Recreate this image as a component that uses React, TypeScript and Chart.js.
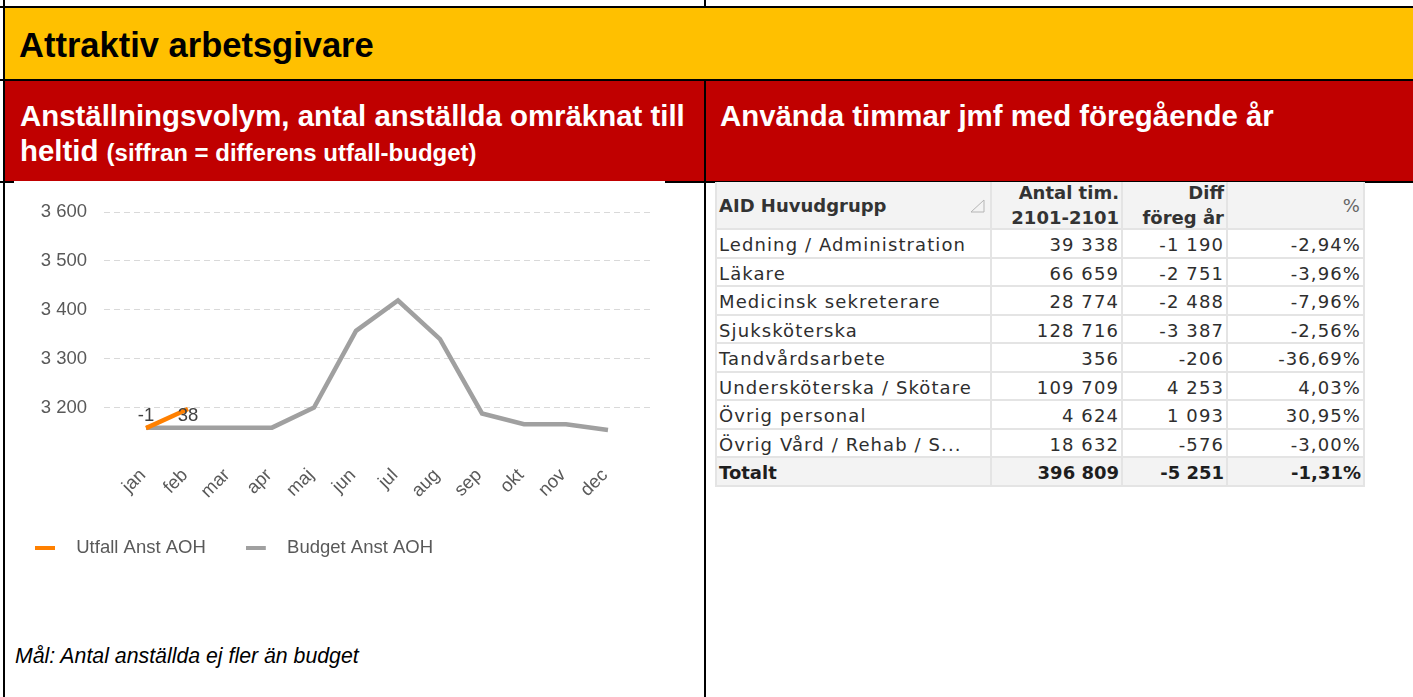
import React, { useEffect, useRef } from "react";
import { Chart, registerables } from "chart.js";

Chart.register(...registerables);

// ---------- chart data ----------
const months = ["jan", "feb", "mar", "apr", "maj", "jun", "jul", "aug", "sep", "okt", "nov", "dec"];
const budgetValues = [3159, 3159, 3159, 3159, 3200, 3357, 3419, 3340, 3188, 3166, 3166, 3154];
const utfallValues = [3158, 3197];
const yTickValues = [3200, 3300, 3400, 3500, 3600];
const seriesNames = ["Utfall Anst AOH", "Budget Anst AOH"];

// ---------- table data ----------
const tableGroups = [
  "Ledning / Administration",
  "Läkare",
  "Medicinsk sekreterare",
  "Sjuksköterska",
  "Tandvårdsarbete",
  "Undersköterska / Skötare",
  "Övrig personal",
  "Övrig Vård / Rehab / S...",
];
const tableHours = ["39 338", "66 659", "28 774", "128 716", "356", "109 709", "4 624", "18 632"];
const tableDiff = ["-1 190", "-2 751", "-2 488", "-3 387", "-206", "4 253", "1 093", "-576"];
const tablePct = ["-2,94%", "-3,96%", "-7,96%", "-2,56%", "-36,69%", "4,03%", "30,95%", "-3,00%"];
const totalRow = ["Totalt", "396 809", "-5 251", "-1,31%"];

const ORANGE = "#FF8000";
const GRAY = "#A0A0A0";
const CHART_FONT = "'Liberation Sans', Arial, sans-serif";
const TEXT_GRAY = "#595959";

function fmt(v: number) {
  return String(v).replace(/\B(?=(\d{3})+(?!\d))/g, " ");
}

function makeDash(color: string) {
  const c = document.createElement("canvas");
  c.width = 32;
  c.height = 4;
  const g = c.getContext("2d")!;
  g.fillStyle = color;
  g.fillRect(0, 0, 20, 4);
  return c;
}

const diffLabelPlugin = {
  id: "diffLabels",
  afterDatasetsDraw(chart: any) {
    const { ctx } = chart;
    const xs = chart.scales.x;
    const ys = chart.scales.y;
    ctx.save();
    ctx.font = `18.5px ${CHART_FONT}`;
    ctx.fillStyle = "#404040";
    ctx.textAlign = "center";
    ctx.textBaseline = "middle";
    utfallValues.forEach((u, i) => {
      const d = Math.round(u - budgetValues[i]);
      ctx.fillText(String(d), xs.getPixelForValue(i), ys.getPixelForValue(budgetValues[i]) - 12);
    });
    ctx.restore();
  },
};

function LineChart() {
  const ref = useRef<HTMLCanvasElement>(null);
  useEffect(() => {
    if (!ref.current) return;
    const colors = [ORANGE, GRAY];
    const dashes = colors.map(makeDash);
    const chart = new Chart(ref.current, {
      type: "line",
      data: {
        datasets: [
          {
            label: seriesNames[0],
            data: utfallValues.map((y, i) => ({ x: i, y })),
            borderColor: ORANGE,
            backgroundColor: ORANGE,
            borderWidth: 4.5,
            pointRadius: 0,
            tension: 0,
            borderCapStyle: "butt",
          },
          {
            label: seriesNames[1],
            data: budgetValues.map((y, i) => ({ x: i, y })),
            borderColor: GRAY,
            backgroundColor: GRAY,
            borderWidth: 4.5,
            pointRadius: 0,
            tension: 0,
            borderCapStyle: "butt",
          },
        ],
      },
      options: {
        animation: false,
        responsive: false,
        maintainAspectRatio: false,
        layout: { padding: { top: 29, right: 15, left: 0, bottom: 20 } },
        scales: {
          x: {
            type: "linear",
            min: -1,
            max: 12,
            afterBuildTicks: (s: any) => {
              s.ticks = months.map((_, i) => ({ value: i }));
            },
            afterFit: (s: any) => {
              s.height = 42;
            },
            grid: { display: false, drawTicks: false },
            border: { display: false },
            ticks: {
              autoSkip: false,
              minRotation: 45,
              maxRotation: 45,
              padding: 8,
              labelOffset: -3,
              color: TEXT_GRAY,
              font: { family: CHART_FONT, size: 18.5 },
              callback: (v: any) => months[v] ?? "",
            },
          },
          y: {
            min: 3100,
            max: 3600,
            afterBuildTicks: (s: any) => {
              s.ticks = yTickValues.map((v) => ({ value: v }));
            },
            afterFit: (s: any) => {
              s.width = 109;
            },
            grid: { color: "#D9D9D9", lineWidth: 1, drawTicks: false },
            border: { display: false, dash: [6, 4] },
            ticks: {
              padding: 17,
              color: TEXT_GRAY,
              font: { family: CHART_FONT, size: 18.5 },
              callback: (v: any) => fmt(v),
            },
          },
        },
        plugins: {
          tooltip: { enabled: false },
          legend: {
            position: "bottom",
            align: "start",
            labels: {
              usePointStyle: true,
              pointStyleWidth: 32,
              padding: 40,
              color: TEXT_GRAY,
              font: { family: CHART_FONT, size: 18.5 },
              generateLabels: (c: any) =>
                c.data.datasets.map((ds: any, i: number) => ({
                  text: ds.label,
                  pointStyle: dashes[i],
                  fillStyle: colors[i],
                  strokeStyle: colors[i],
                  lineWidth: 0,
                  hidden: false,
                  datasetIndex: i,
                  fontColor: TEXT_GRAY,
                })),
            },
          },
        },
      },
      plugins: [diffLabelPlugin],
    } as any);
    return () => chart.destroy();
  }, []);
  return (
    <canvas
      ref={ref}
      width={670}
      height={404}
      style={{ position: "absolute", left: -5, top: 183, width: 670, height: 404 }}
    />
  );
}

const bodyFont = "'DejaVu Sans', Verdana, sans-serif";
const COLS = [277, 131, 105, 137];
const HEADER_H = 48;
const ROW_H = 28.5;
const LINE = "2px solid #E4E4E4";

function Cell(props: {
  left: number;
  top: number;
  width: number;
  height: number;
  align: "left" | "right";
  bold?: boolean;
  bg?: string;
  first?: boolean;
  header?: boolean;
  children: React.ReactNode;
  color?: string;
}) {
  const { left, top, width, height, align, bold, bg, first, header, children, color } = props;
  return (
    <div
      style={{
        position: "absolute",
        left,
        top,
        width,
        height,
        boxSizing: "border-box",
        borderRight: LINE,
        borderBottom: LINE,
        borderLeft: first ? LINE : undefined,
        background: bg || "#fff",
        display: "flex",
        alignItems: "center",
        justifyContent: align === "right" ? "flex-end" : "flex-start",
        textAlign: align,
        padding: `${header ? 0 : 3}px ${align === "right" ? 2 : 0}px 0 ${align === "right" ? 0 : 2}px`,
        fontFamily: bodyFont,
        fontSize: 18,
        fontWeight: bold ? "bold" : "normal",
        letterSpacing: bold ? 0 : 1.1,
        color: color || "#2E2E2E",
        whiteSpace: "nowrap",
        overflow: "hidden",
        lineHeight: "25px",
      }}
    >
      {children}
    </div>
  );
}

function DataTable() {
  const lefts = COLS.map((_, i) => COLS.slice(0, i).reduce((a, b) => a + b, 0));
  const rows: React.ReactNode[] = [];
  const bodyRows = tableGroups.map((g, i) => [g, tableHours[i], tableDiff[i], tablePct[i]]);
  bodyRows.forEach((r, ri) => {
    r.forEach((t, ci) => {
      rows.push(
        <Cell
          key={`r${ri}c${ci}`}
          left={lefts[ci]}
          top={HEADER_H + ri * ROW_H}
          width={COLS[ci]}
          height={ROW_H}
          align={ci === 0 ? "left" : "right"}
          first={ci === 0}
        >
          {t}
        </Cell>
      );
    });
  });
  totalRow.forEach((t, ci) => {
    rows.push(
      <Cell
        key={`t${ci}`}
        left={lefts[ci]}
        top={HEADER_H + bodyRows.length * ROW_H}
        width={COLS[ci]}
        height={ROW_H}
        align={ci === 0 ? "left" : "right"}
        first={ci === 0}
        bold
        bg="#F3F3F3"
        color="#1E1E1E"
      >
        {t}
      </Cell>
    );
  });
  return (
    <div style={{ position: "absolute", left: 715, top: 182, width: 650, height: 490 }}>
      <Cell left={lefts[0]} top={0} width={COLS[0]} height={HEADER_H} align="left" bold bg="#F3F3F3" first header color="#333">
        <span style={{ flex: 1 }}>AID Huvudgrupp</span>
        <svg width="16" height="16" style={{ marginRight: 4, marginTop: 2 }}>
          <path d="M1 14 L14 14 L14 2 Z" fill="none" stroke="#B5B5B5" strokeWidth="1" />
        </svg>
      </Cell>
      <Cell left={lefts[1]} top={0} width={COLS[1]} height={HEADER_H} align="right" bold bg="#F3F3F3" header color="#333">
        <span>
          Antal tim.
          <br />
          2101-2101
        </span>
      </Cell>
      <Cell left={lefts[2]} top={0} width={COLS[2]} height={HEADER_H} align="right" bold bg="#F3F3F3" header color="#333">
        <span>
          Diff
          <br />
          föreg år
        </span>
      </Cell>
      <Cell left={lefts[3]} top={0} width={COLS[3]} height={HEADER_H} align="right" bg="#F3F3F3" header color="#666">
        %
      </Cell>
      {rows}
    </div>
  );
}

export default function App() {
  const black = "#000";
  const headFont = "'Liberation Sans', Arial, Helvetica, sans-serif";
  return (
    <div
      style={{
        position: "fixed",
        left: 0,
        top: 0,
        width: 1413,
        height: 697,
        overflow: "hidden",
        background: "#fff",
        fontFamily: headFont,
      }}
    >
      {/* yellow band */}
      <div style={{ position: "absolute", left: 5, top: 8, width: 1408, height: 71, background: "#FFC000" }} />
      {/* red band */}
      <div style={{ position: "absolute", left: 5, top: 81, width: 1408, height: 100, background: "#C00000" }} />
      {/* lines */}
      <div style={{ position: "absolute", left: 0, top: 6, width: 1413, height: 2, background: black }} />
      <div style={{ position: "absolute", left: 0, top: 79, width: 1413, height: 2, background: black }} />
      <div style={{ position: "absolute", left: 0, top: 181, width: 1413, height: 2, background: black }} />
      <div style={{ position: "absolute", left: 3, top: 0, width: 2, height: 697, background: black }} />
      <div style={{ position: "absolute", left: 704, top: 0, width: 2, height: 6, background: black }} />
      <div style={{ position: "absolute", left: 704, top: 81, width: 2, height: 616, background: black }} />
      {/* chart picture covers border */}
      <div style={{ position: "absolute", left: 14, top: 181, width: 651, height: 2, background: "#fff" }} />

      <div
        style={{
          position: "absolute",
          left: 19,
          top: 25,
          fontSize: 34.5,
          lineHeight: "40px",
          fontWeight: "bold",
          color: "#000",
          whiteSpace: "nowrap",
        }}
      >
        Attraktiv arbetsgivare
      </div>

      <div
        style={{
          position: "absolute",
          left: 20,
          top: 97.5,
          fontSize: 29.4,
          lineHeight: "35px",
          fontWeight: "bold",
          color: "#fff",
          whiteSpace: "nowrap",
        }}
      >
        Anställningsvolym, antal anställda omräknat till
        <br />
        heltid <span style={{ fontSize: 24 }}>(siffran = differens utfall-budget)</span>
      </div>

      <div
        style={{
          position: "absolute",
          left: 720,
          top: 97.5,
          fontSize: 29.4,
          lineHeight: "35px",
          fontWeight: "bold",
          color: "#fff",
          whiteSpace: "nowrap",
        }}
      >
        Använda timmar jmf med föregående år
      </div>

      <LineChart />

      <div
        style={{
          position: "absolute",
          left: 15,
          top: 643,
          fontSize: 21.3,
          lineHeight: "26px",
          fontStyle: "italic",
          color: "#000",
          whiteSpace: "nowrap",
        }}
      >
        Mål: Antal anställda ej fler än budget
      </div>

      <DataTable />
    </div>
  );
}
